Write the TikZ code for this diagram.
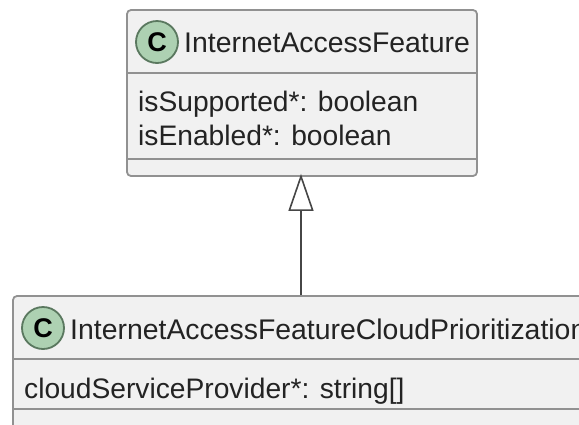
\documentclass[tikz,border=0pt]{standalone}
\usepackage{fontspec}
\setmainfont{Liberation Sans}
\usepackage{xcolor}
\definecolor{box-fill}{RGB}{241,241,241}
\definecolor{box-line}{RGB}{145,145,145}
\definecolor{badge-fill}{RGB}{173,209,178}
\definecolor{badge-line}{RGB}{90,120,95}
\definecolor{text-dark}{RGB}{35,35,35}
\definecolor{arrow-line}{RGB}{70,70,70}
\usetikzlibrary{arrows.meta,positioning}

\begin{document}
\begin{tikzpicture}[
    x=1pt, y=-1pt,
    class box/.style={
        rounded corners=4pt,
        draw=box-line,
        line width=1.8pt,
        fill=box-fill,
        inner sep=0pt
    },
    class badge/.style={
        circle,
        draw=badge-line,
        fill=badge-fill,
        line width=1.8pt,
        text=black,
        font=\fontsize{27}{27}\selectfont\bfseries,
        minimum size=42pt,
        inner sep=0pt
    },
    class name/.style={
        anchor=base west,
        inner sep=0pt,
        text=text-dark,
        font=\fontsize{28.4}{28.4}\selectfont
    },
    member/.style={
        anchor=base west,
        inner sep=0pt,
        text=text-dark,
        font=\fontsize{28.2}{28.2}\selectfont
    },
    divider/.style={draw=box-line, line width=1.8pt},
    arrow/.style={-{Triangle[open, length=37pt, width=25pt, line width=1.6pt]}, arrow-line, line width=1.6pt, shorten >=-3pt}
]

\clip (0,0) rectangle (579,424);
\fill[white] (0,0) rectangle (579,424);

% InternetAccessFeature
\node[class box, minimum width=350pt, minimum height=166pt] (feature) at (302,93) {};
\draw[divider] ([yshift=-64pt]feature.north west) -- ([yshift=-64pt]feature.north east);
\draw[divider] ([yshift=-150pt]feature.north west) -- ([yshift=-150pt]feature.north east);
\node[class badge] (featurebadge) at (157,42) {C};
\node[class name] (featurename) at (184,52) {InternetAccessFeature};
\node[member] (supported) at (138,111) {isSupported*: boolean};
\node[member] (enabled) at (138,145) {isEnabled*: boolean};

% InternetAccessFeatureCloudPrioritization
\node[class box, minimum width=640pt, minimum height=180pt] (cloud) at (333,386) {};
\draw[divider] ([yshift=-64pt]cloud.north west) -- ([yshift=-64pt]cloud.north east);
\draw[divider] ([yshift=-114pt]cloud.north west) -- ([yshift=-114pt]cloud.north east);
\node[class badge] (cloudbadge) at (43,328) {C};
\node[class name] (cloudname) at (70,339.5) {InternetAccessFeatureCloudPrioritization};
\node[member] (provider) at (24,398) {cloudServiceProvider*: string[]};

% Arrow
\draw[arrow] ([xshift=-1pt]feature.south |- cloud.north) -- ([xshift=-1pt]feature.south);

\end{tikzpicture}
\end{document}
